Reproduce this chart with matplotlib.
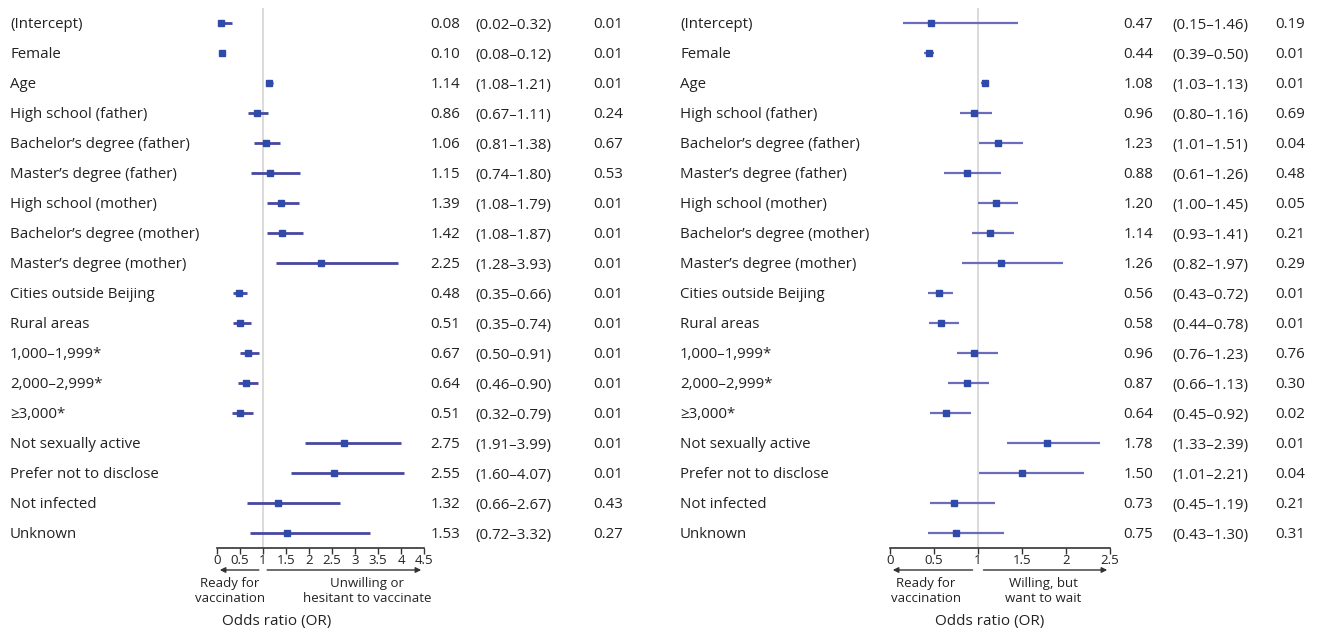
import matplotlib.pyplot as plt
import matplotlib.transforms as mtransforms

plt.rcParams['font.family'] = ['Open Sans', 'DejaVu Sans']

labels = ['(Intercept)', 'Female', 'Age', 'High school (father)',
          'Bachelor\u2019s degree (father)', 'Master\u2019s degree (father)',
          'High school (mother)', 'Bachelor\u2019s degree (mother)',
          'Master\u2019s degree (mother)', 'Cities outside Beijing', 'Rural areas',
          '1,000\u20131,999*', '2,000\u20132,999*', '\u22653,000*',
          'Not sexually active', 'Prefer not to disclose', 'Not infected', 'Unknown']

# left panel: unwilling / hesitant vs ready
or_left = [0.08, 0.10, 1.14, 0.86, 1.06, 1.15, 1.39, 1.42, 2.25, 0.48, 0.51,
           0.67, 0.64, 0.51, 2.75, 2.55, 1.32, 1.53]
lo_left = [0.02, 0.08, 1.08, 0.67, 0.81, 0.74, 1.08, 1.08, 1.28, 0.35, 0.35,
           0.50, 0.46, 0.32, 1.91, 1.60, 0.66, 0.72]
hi_left = [0.32, 0.12, 1.21, 1.11, 1.38, 1.80, 1.79, 1.87, 3.93, 0.66, 0.74,
           0.91, 0.90, 0.79, 3.99, 4.07, 2.67, 3.32]
p_left = ['0.01', '0.01', '0.01', '0.24', '0.67', '0.53', '0.01', '0.01', '0.01',
          '0.01', '0.01', '0.01', '0.01', '0.01', '0.01', '0.01', '0.43', '0.27']

# right panel: willing but want to wait vs ready
or_right = [0.47, 0.44, 1.08, 0.96, 1.23, 0.88, 1.20, 1.14, 1.26, 0.56, 0.58,
            0.96, 0.87, 0.64, 1.78, 1.50, 0.73, 0.75]
lo_right = [0.15, 0.39, 1.03, 0.80, 1.01, 0.61, 1.00, 0.93, 0.82, 0.43, 0.44,
            0.76, 0.66, 0.45, 1.33, 1.01, 0.45, 0.43]
hi_right = [1.46, 0.50, 1.13, 1.16, 1.51, 1.26, 1.45, 1.41, 1.97, 0.72, 0.78,
            1.23, 1.13, 0.92, 2.39, 2.21, 1.19, 1.30]
p_right = ['0.19', '0.01', '0.01', '0.69', '0.04', '0.48', '0.05', '0.21', '0.29',
           '0.01', '0.01', '0.76', '0.30', '0.02', '0.01', '0.04', '0.21', '0.31']

W, H = 1318, 635
fig = plt.figure(figsize=(W / 100, H / 100), dpi=100)

txt_col = '#222222'
mk_col = '#2f4aa8'


def px(x):
    return x / W


def py(y):
    return 1 - y / H


def panel(x0, x1, xmax, ticks, odds, lo, hi, pvals, label_x, val_x, ci_x, p_x,
          line_col, lw, left_txt, right_txt, left_cx, right_cx, title_cx):
    n = len(odds)
    row0, row_last, ax_bottom, ax_top = 23, 533, 548, 8
    step = (row_last - row0) / (n - 1)
    ax = fig.add_axes([px(x0), py(ax_bottom), px(x1 - x0), (ax_bottom - ax_top) / H])
    ax.set_xlim(0, xmax)
    ax.set_ylim((n - 1) + (ax_bottom - row_last) / step, -(row0 - ax_top) / step)
    for s in ['top', 'left', 'right']:
        ax.spines[s].set_visible(False)
    ax.spines['bottom'].set_color('#333333')
    ax.spines['bottom'].set_linewidth(1.2)
    ax.set_yticks([])
    ax.set_xticks(ticks)
    ax.set_xticklabels([('%g' % t) for t in ticks], fontsize=9.5, color=txt_col)
    ax.tick_params(axis='x', length=4, width=1, color='#333333', pad=0)
    ax.patch.set_alpha(0)
    ax.axvline(1, color='#d4d4d4', lw=1.2, zorder=0)

    for i in range(n):
        ax.plot([lo[i], hi[i]], [i, i], color=line_col, lw=lw, solid_capstyle='butt', zorder=2)
        ax.plot(odds[i], i, 's', color=mk_col, ms=5, zorder=3)

    tr = mtransforms.blended_transform_factory(fig.transFigure, ax.transData)
    for i in range(n):
        ax.text(px(label_x), i, labels[i], transform=tr, ha='left', va='center_baseline',
                fontsize=10.8, color=txt_col)
        ax.text(px(val_x), i, '%.2f' % odds[i], transform=tr, ha='right',
                va='center_baseline', fontsize=10.8, color=txt_col)
        ax.text(px(ci_x), i, '(%.2f\u2013%.2f)' % (lo[i], hi[i]), transform=tr,
                ha='left', va='center_baseline', fontsize=10.8, color=txt_col)
        ax.text(px(p_x), i, pvals[i], transform=tr, ha='left', va='center_baseline',
                fontsize=10.8, color=txt_col)

    # direction arrows
    atr = mtransforms.blended_transform_factory(ax.transData, fig.transFigure)
    ay = py(570)
    ax.annotate('', xy=(0, ay), xytext=(0.97, ay), xycoords=atr, textcoords=atr,
                arrowprops=dict(arrowstyle='-|>', color='#333333', lw=1, mutation_scale=8),
                annotation_clip=False)
    ax.annotate('', xy=(xmax, ay), xytext=(1.03, ay), xycoords=atr, textcoords=atr,
                arrowprops=dict(arrowstyle='-|>', color='#333333', lw=1, mutation_scale=8),
                annotation_clip=False)
    fig.text(px(left_cx), py(591), left_txt, ha='center', va='center', fontsize=9.5,
             color=txt_col, linespacing=1.3)
    fig.text(px(right_cx), py(591), right_txt, ha='center', va='center', fontsize=9.5,
             color=txt_col, linespacing=1.3)
    fig.text(px(title_cx), py(621), 'Odds ratio (OR)', ha='center', va='center',
             fontsize=11, color=txt_col)
    return ax


panel(217, 424, 4.5, [0, 0.5, 1, 1.5, 2, 2.5, 3, 3.5, 4, 4.5],
      or_left, lo_left, hi_left, p_left, 10, 460, 475, 593,
      '#4848a0', 2.0, 'Ready for\nvaccination', 'Unwilling or\nhesitant to vaccinate',
      230, 367, 277)

panel(890, 1110, 2.5, [0, 0.5, 1, 1.5, 2, 2.5],
      or_right, lo_right, hi_right, p_right, 680, 1153, 1172, 1275,
      '#6c6cbc', 1.6, 'Ready for\nvaccination', 'Willing, but\nwant to wait',
      926, 1043, 990)

fig.savefig('out.png', dpi=100)
